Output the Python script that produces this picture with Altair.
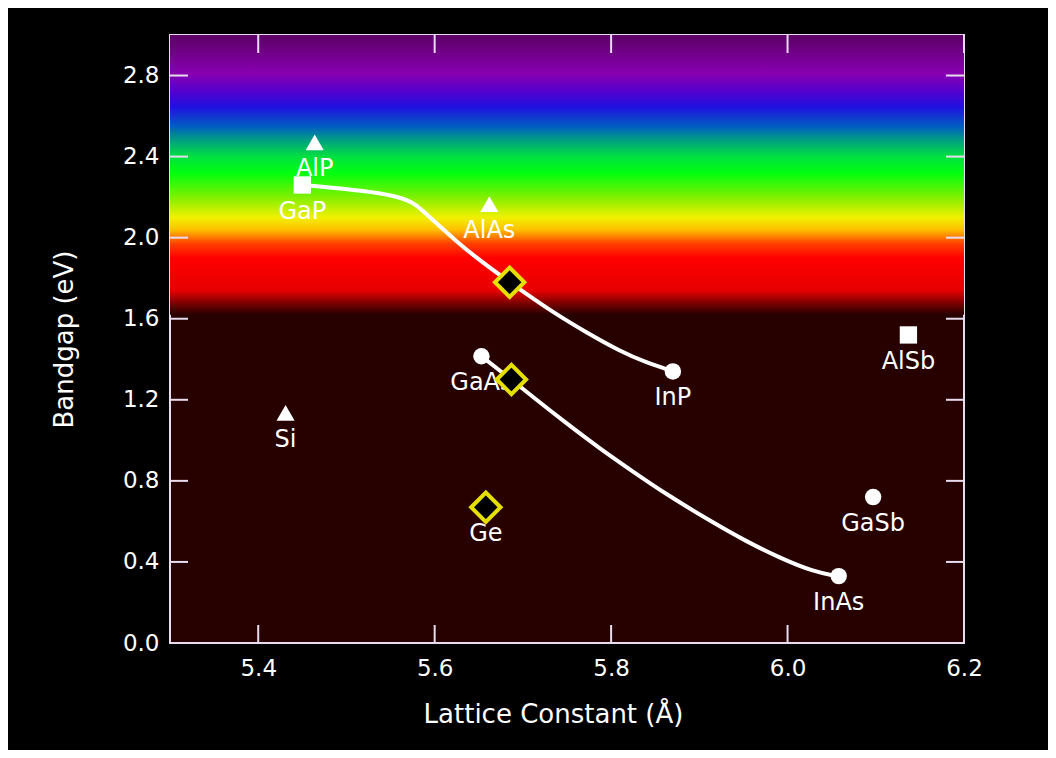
import altair as alt
import pandas as pd

# ---------------- data ----------------
materials = ["AlP", "GaP", "AlAs", "GaAs", "InP", "AlSb", "Si", "GaSb", "InAs", "Ge"]
lattice = [5.464, 5.450, 5.662, 5.653, 5.870, 6.137, 5.431, 6.097, 6.058, 5.658]
bandgap = [2.47, 2.26, 2.165, 1.415, 1.34, 1.52, 1.135, 0.72, 0.33, 0.67]
marker = ["triangle", "square", "triangle", "circle", "circle", "square",
          "triangle", "circle", "circle", "diamond"]

# unlabeled alloy points (yellow diamonds)
alloy_lattice = [5.685, 5.687]
alloy_bandgap = [1.78, 1.30]

# interpolation curves
upper_x = [5.450, 5.566, 5.587, 5.606, 5.624, 5.643, 5.685, 5.700, 5.734, 5.772, 5.810, 5.840, 5.870]
upper_y = [2.26, 2.215, 2.13, 2.055, 1.985, 1.915, 1.78, 1.735, 1.632, 1.532, 1.44, 1.383, 1.341]
lower_x = [5.653, 5.687, 5.711, 5.749, 5.787, 5.825, 5.862, 5.915, 5.953, 5.991, 6.029, 6.058]
lower_y = [1.415, 1.300, 1.215, 1.085, 0.960, 0.845, 0.735, 0.595, 0.502, 0.420, 0.352, 0.328]

# visible-spectrum band (eV)
band_top = 3.0
band_bottom = 1.62
stop_offsets = [0.0, 0.138, 0.196, 0.257, 0.329, 0.377, 0.435, 0.493, 0.58,
                0.652, 0.696, 0.746, 0.797, 0.913, 0.957, 1.0]
stop_colors = ["#5c0066", "#8800b0", "#5a00cc", "#2010e0", "#0060c0", "#00a080",
               "#00e040", "#00ff10", "#80f000", "#f0f000", "#ffc000", "#ff4000",
               "#ff0000", "#e80000", "#800000", "#270000"]

x_ticks = [5.4, 5.6, 5.8, 6.0, 6.2]
y_ticks = [0.0, 0.4, 0.8, 1.2, 1.6, 2.0, 2.4, 2.8]
x_domain = [5.3, 6.2]
y_domain = [0.0, 3.0]

# ---------------- styling ----------------
W, H = 794, 608
FONT = "DejaVu Sans"
FRAME = "#e8dcef"
TICK_LEN = 18

pts = pd.DataFrame({"name": materials, "a": lattice, "eg": bandgap, "marker": marker})
alloys = pd.DataFrame({"a": alloy_lattice, "eg": alloy_bandgap})
curves = pd.DataFrame({
    "a": upper_x + lower_x,
    "eg": upper_y + lower_y,
    "curve": ["upper"] * len(upper_x) + ["lower"] * len(lower_x),
})
band = pd.DataFrame({"a": [x_domain[0]], "a2": [x_domain[1]], "eg": [band_top], "eg2": [band_bottom]})
xt = pd.DataFrame({"a": x_ticks})
yt = pd.DataFrame({"eg": y_ticks})

xs = alt.Scale(domain=x_domain, nice=False, zero=False)
ys = alt.Scale(domain=y_domain, nice=False, zero=False)

x_axis = alt.Axis(values=x_ticks, format=".1f", tickSize=0, domain=False, grid=False,
                  labelFontSize=23, labelColor="white", labelFont=FONT, labelPadding=14,
                  labelFlush=False, labelOverlap=False,
                  title="Lattice Constant (Å)", titleFont=FONT, titleFontSize=26,
                  titleFontWeight="normal", titleColor="white",
                  titleX=383, titleY=71, titleAlign="center", titleBaseline="middle")
y_axis = alt.Axis(values=y_ticks, format=".1f", tickSize=0, domain=False, grid=False,
                  labelFontSize=23, labelColor="white", labelFont=FONT, labelPadding=11,
                  labelFlush=False, labelOverlap=False,
                  title="Bandgap (eV)", titleFont=FONT, titleFontSize=26,
                  titleFontWeight="normal", titleColor="white", titleAngle=270,
                  titleX=-106, titleY=H / 2, titleAlign="center", titleBaseline="middle")


def X(field="a:Q"):
    return alt.X(field, scale=xs, axis=x_axis)


def Y(field="eg:Q"):
    return alt.Y(field, scale=ys, axis=y_axis)


gradient = alt.Gradient(
    gradient="linear", x1=0, x2=0, y1=0, y2=1,
    stops=[alt.GradientStop(offset=o, color=c) for o, c in zip(stop_offsets, stop_colors)],
)

band_layer = alt.Chart(band).mark_rect(fill=gradient, strokeWidth=0).encode(
    x=X(), x2="a2:Q", y=Y(), y2="eg2:Q",
)

lines = alt.Chart(curves).mark_line(color="white", strokeWidth=4, interpolate="basis").encode(
    x=X(), y=Y(), detail="curve:N",
)


def sym(shape, size):
    return alt.Chart(pts).transform_filter(alt.datum.marker == shape).mark_point(
        shape=shape if shape != "triangle" else "triangle-up",
        filled=True, color="white", opacity=1, size=size,
    ).encode(x=X(), y=Y())


circles = sym("circle", 270)
triangles = sym("triangle", 330)
squares = sym("square", 300)

labels = alt.Chart(pts).mark_text(color="white", font=FONT, fontSize=24, dy=27,
                                  baseline="middle", align="center").encode(
    x=X(), y=Y(), text="name:N",
)

diamond_style = dict(shape="diamond", filled=True, fill="black", stroke="#e6e000",
                     strokeWidth=4, opacity=1, fillOpacity=1, strokeOpacity=1, size=860)
ge = alt.Chart(pts).transform_filter(alt.datum.marker == "diamond").mark_point(**diamond_style).encode(
    x=X(), y=Y(),
)
alloy_pts = alt.Chart(alloys).mark_point(**diamond_style).encode(x=X(), y=Y())

# inward ticks on all four sides
tick_style = dict(color=FRAME, strokeWidth=2)
left_ticks = alt.Chart(yt).mark_rule(**tick_style).encode(
    y=Y(), x=alt.value(0), x2=alt.value(TICK_LEN))
right_ticks = alt.Chart(yt).mark_rule(**tick_style).encode(
    y=Y(), x=alt.value(W - TICK_LEN), x2=alt.value(W))
bottom_ticks = alt.Chart(xt).mark_rule(**tick_style).encode(
    x=X(), y=alt.value(H - TICK_LEN), y2=alt.value(H))
top_ticks = alt.Chart(xt).mark_rule(**tick_style).encode(
    x=X(), y=alt.value(0), y2=alt.value(TICK_LEN))

chart = alt.layer(
    band_layer, lines, circles, triangles, squares, labels, ge, alloy_pts,
    left_ticks, right_ticks, bottom_ticks, top_ticks,
).properties(
    width=W, height=H,
    background="black",
    padding={"left": 162, "top": 27, "right": 84, "bottom": 107},
    autosize=alt.AutoSizeParams(type="none"),
).configure_view(
    fill="#270000", stroke=FRAME, strokeWidth=2,
)

chart.save("out.html", embed_options={"renderer": "svg", "actions": False})
